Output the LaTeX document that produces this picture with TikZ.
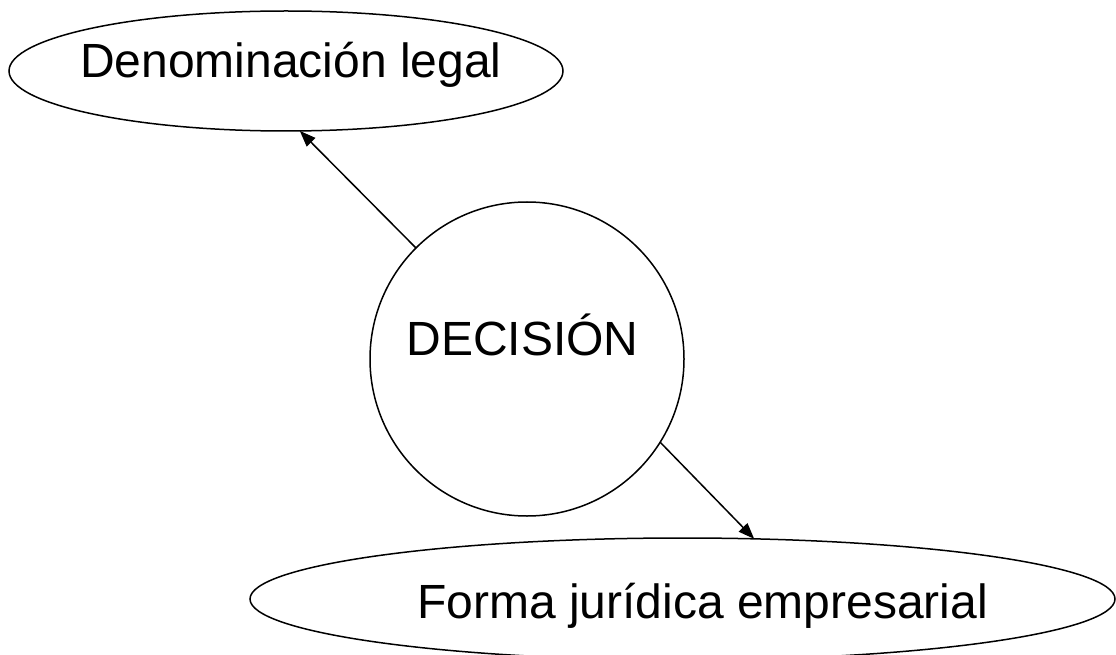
\documentclass[tikz,border=0pt]{standalone}
\usepackage{fontspec}
\setmainfont{Liberation Sans}
\usetikzlibrary{shapes.geometric,arrows.meta}
\tikzset{
  shp/.style={draw=black, line width=1.5pt, inner sep=0pt, outer sep=0pt,
    font=\fontsize{48}{56}\selectfont},
  ell/.style={shp, ellipse},
  circ/.style={shp, circle},
  arr/.style={line width=1.5pt, -{Triangle[length=16pt,width=12pt]}}
}
\begin{document}
\begin{tikzpicture}[x=1pt,y=-1pt]
\useasboundingbox (0,0) rectangle (1116,655);
\node[ell, minimum width=554pt, minimum height=120pt, text height=33pt, text depth=19pt]
  (den) at (286,71) {\makebox[0pt]{\hspace*{10pt}Denominación legal}};
\node[circ, minimum size=314pt, text height=33pt, text depth=41pt]
  (dec) at (527,359) {\makebox[0pt]{DECISIÓN\hspace*{9pt}}};
\node[ell, minimum width=865pt, minimum height=122pt, text height=42pt, text depth=4pt]
  (forma) at (682.5,599) {\makebox[0pt]{\hspace*{40pt}Forma jurídica empresarial}};
\draw[arr] (dec.135) -- (den.-77);
\draw[arr] (dec.-32.7) -- (forma.40.9);
\end{tikzpicture}
\end{document}
